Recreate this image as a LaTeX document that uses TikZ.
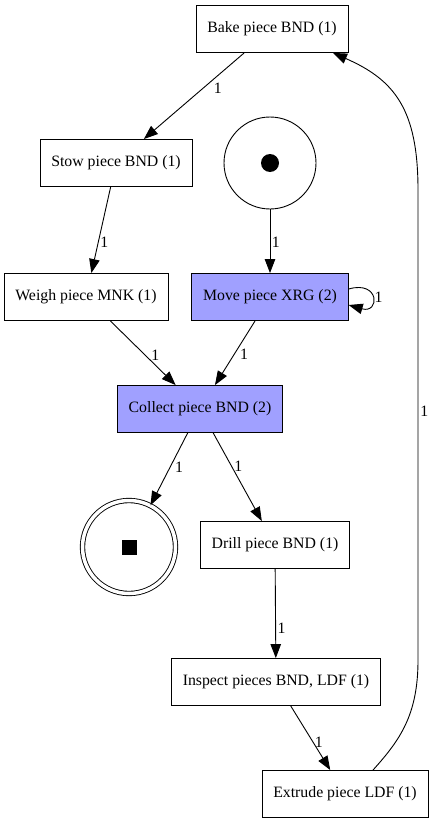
\documentclass[tikz,border=0pt]{standalone}
\usepackage{fontspec}
\setmainfont{Liberation Serif}
\usetikzlibrary{arrows.meta}
\definecolor{busy}{RGB}{160,160,255}

\begin{document}
\begin{tikzpicture}[x=1pt,y=-1pt,line width=0.9pt,
	font=\fontsize{15.8}{18}\selectfont,
	trans/.style={draw,rectangle,inner xsep=11.3pt,minimum height=47pt},
	place/.style={draw,circle,minimum size=92pt,inner sep=0pt},
	arc/.style={-{Triangle[length=14pt,width=10.5pt]}},
	lbl/.style={anchor=west,inner sep=1.5pt}]
	\useasboundingbox (0,0) rectangle (435,824);
	\fill[white] (0,0) rectangle (435,824);
	% transitions
	\node[trans] (bake) at (272,29) {Bake piece BND (1)};
	\node[trans] (stow) at (116,163) {Stow piece BND (1)};
	\node[trans] (weigh) at (86,297) {Weigh piece MNK (1)};
	\node[trans,fill=busy] (move) at (270,297) {Move piece XRG (2)};
	\node[trans,fill=busy] (collect) at (200,409) {Collect piece BND (2)};
	\node[trans] (drill) at (275,545) {Drill piece BND (1)};
	\node[trans] (inspect) at (276,682) {Inspect pieces BND, LDF (1)};
	\node[trans] (extrude) at (345,794) {Extrude piece LDF (1)};
	% places
	\node[place] (start) at (270,163) {};
	\fill (start.center) circle (9pt);
	\node[place,minimum size=93pt,double,double distance=3.5pt] (end) at (129,547) {\rule{15pt}{15pt}};
	% arcs
	\draw[arc] (bake) -- node[lbl,pos=0.41,xshift=9pt] {1} (stow);
	\draw[arc] (stow) -- node[lbl,pos=0.64] {1} (weigh);
	\draw[arc] (start) -- node[lbl,pos=0.52] {1} (move);
	\draw[arc] (move.east |- 0,289) .. controls (380,280) and (380,314) .. node[lbl,pos=0.5,xshift=0.5pt] {1} (move.east |- 0,305);
	\draw[arc] (weigh) -- node[lbl,pos=0.53,xshift=4.5pt] {1} (collect);
	\draw[arc] (move) -- node[lbl,pos=0.52,xshift=4pt] {1} (collect);
	\draw[arc] (collect) -- node[lbl,pos=0.47,xshift=3pt] {1} (end);
	\draw[arc] (collect) -- node[lbl,pos=0.375,xshift=1pt] {1} (drill);
	\draw[arc] (drill) -- node[lbl,pos=0.67] {1} (inspect);
	\draw[arc] (inspect) -- node[lbl,pos=0.56] {1} (extrude);
	\draw[arc] ([xshift=28pt]extrude.north) .. controls (400,740) and (418,715) .. (418,660)
		-- node[lbl,pos=0.53,xshift=0.5pt] {1} (418,190)
		.. controls (418,110) and (395,80) .. ([xshift=61pt]bake.south);
\end{tikzpicture}
\end{document}
